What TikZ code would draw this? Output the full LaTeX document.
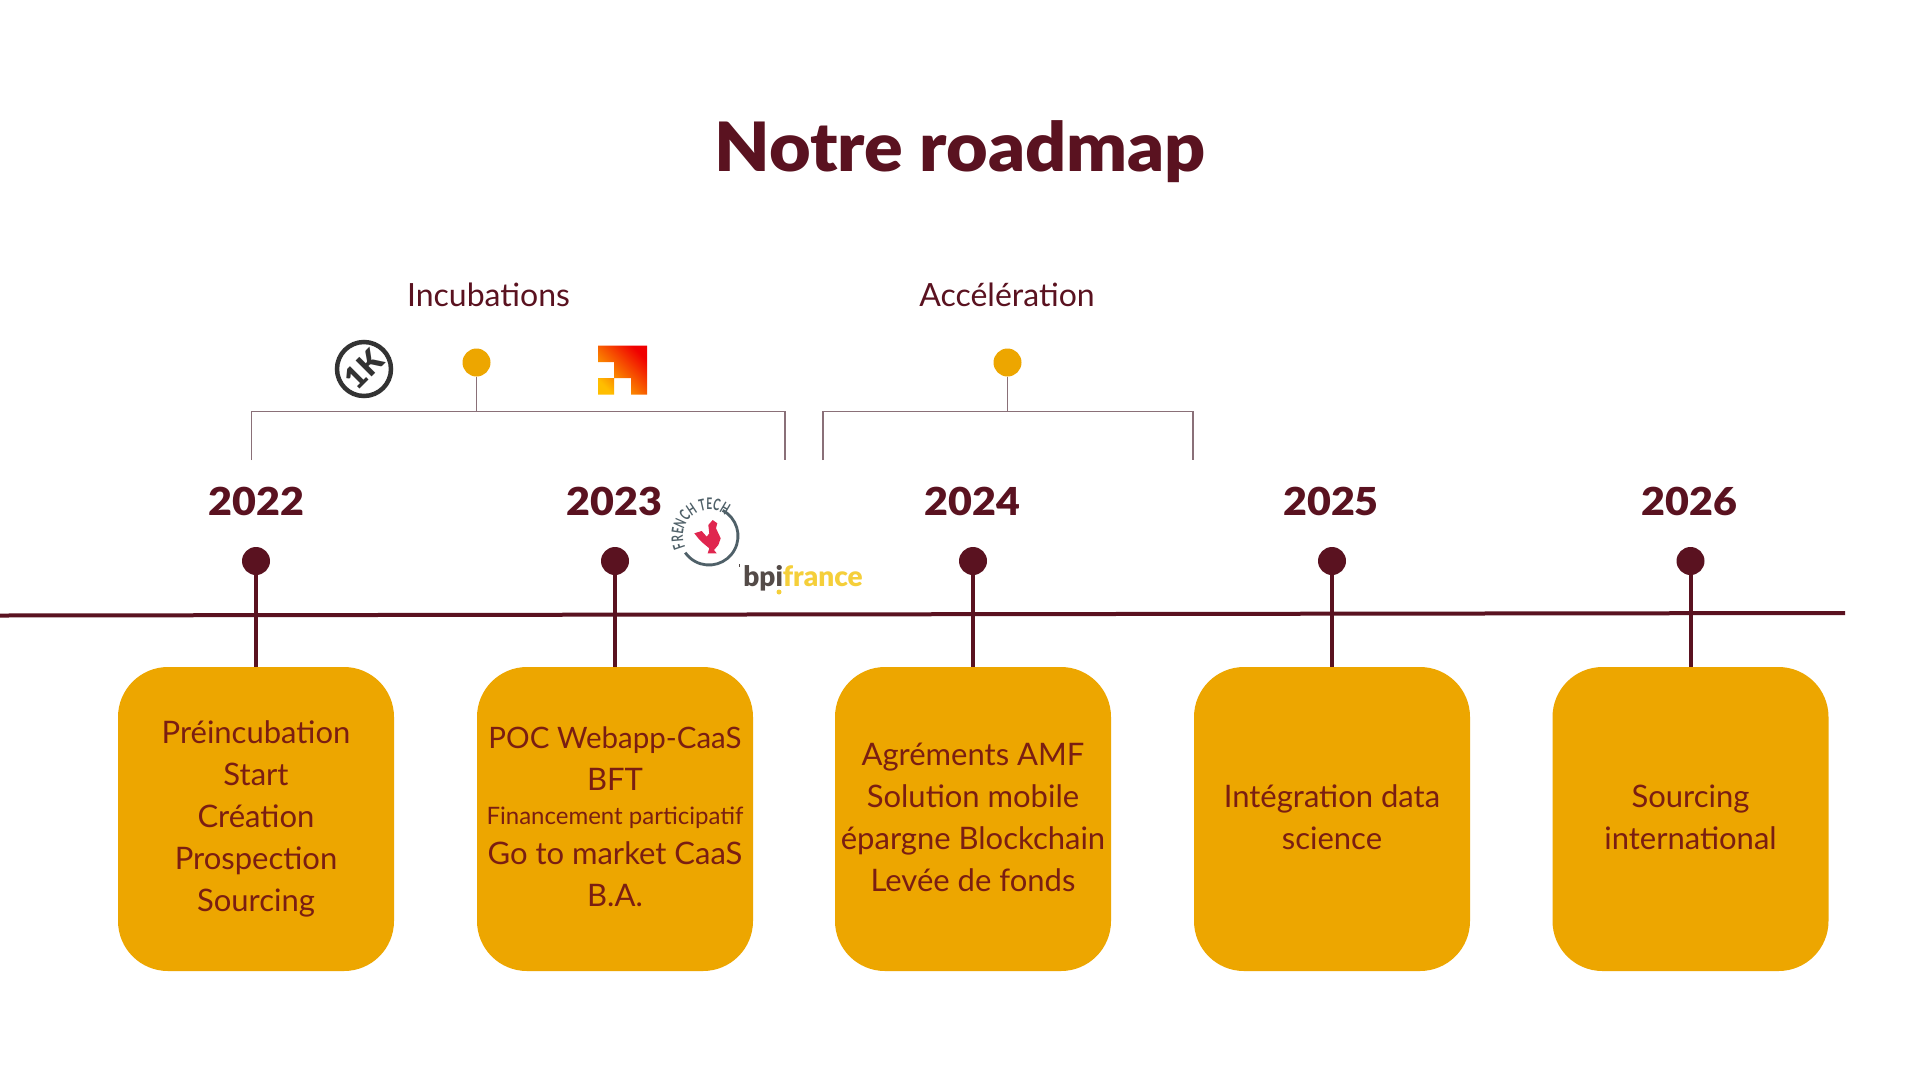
\documentclass[tikz,border=0pt]{standalone}
\usepackage{fontspec}
\setmainfont{Lato}
\newfontfamily\blk{Lato Black}
\newfontfamily\blkw[FakeStretch=1.055]{Lato Black}
\newfontfamily\blky[FakeStretch=1.07]{Lato Black}
\newfontfamily\ftfont[FakeStretch=0.64]{Lato}
\usetikzlibrary{decorations.text,shadings}
\definecolor{wine}{HTML}{5A1220}
\definecolor{amber}{HTML}{EDA600}
\definecolor{boxtext}{HTML}{7A1E12}
\definecolor{brk}{HTML}{8A7078}
\definecolor{logodark}{HTML}{333333}
\definecolor{ftgray}{HTML}{4F6068}
\definecolor{rooster}{HTML}{E0264F}
\definecolor{bpigray}{HTML}{544B48}
\definecolor{bpiyellow}{HTML}{F5CF3A}
\definecolor{logored}{HTML}{F00000}
\definecolor{logoyellow}{HTML}{FFBE00}
\begin{document}
\begin{tikzpicture}[x=1pt,y=-1pt,
  yearlabel/.style={font=\blky\fontsize{38.5}{40}\selectfont,text=wine,inner sep=0},
  pin/.style={circle,fill=wine,minimum size=28pt,inner sep=0},
  stem/.style={draw=wine,line width=4pt},
  card/.style={fill=amber,rounded corners=50pt,minimum width=276pt,minimum height=304pt,inner sep=0,
     text=boxtext,align=center,font=\fontsize{31}{42}\selectfont},
  phase/.style={font=\fontsize{32}{36}\selectfont,text=wine,inner sep=0},
  amberdot/.style={circle,fill=amber,minimum size=28pt,inner sep=0},
  bracket/.style={draw=brk,line width=1.4pt},
  tick/.style={draw=brk,line width=1.4pt}]
\useasboundingbox (0,0) rectangle (1920,1080);
\fill[white] (0,0) rectangle (1920,1080);
\node[font=\blkw\fontsize{68}{70}\selectfont,text=wine,inner sep=0] (title) at (960,152) {Notre roadmap};
\node[phase] (inc) at (488.5,294.5) {Incubations};
\node[phase] (acc) at (1007,294.5) {Accélération};
% timeline
\coordinate (tlL) at (0,615.5);
\coordinate (tlR) at (1845,613);
\draw[stem] (tlL) -- (tlR);
% years, pins, cards
\node[yearlabel] (y1) at (256.5,501) {2022};
\node[yearlabel] (y2) at (614.5,501) {2023};
\node[yearlabel] (y3) at (972.5,501) {2024};
\node[yearlabel] (y4) at (1331,501) {2025};
\node[yearlabel] (y5) at (1689.5,501) {2026};
\node[pin] (p1) at (256,561) {};
\node[pin] (p2) at (615,561) {};
\node[pin] (p3) at (973,561) {};
\node[pin] (p4) at (1332,561) {};
\node[pin] (p5) at (1690.5,561) {};
\node[card] (b1) at (256,819) {Préincubation\\Start\\Création\\Prospection\\Sourcing};
\node[card] (b2) at (615,819) {{\fontsize{29.5}{42}\selectfont POC Webapp-CaaS}\\BFT\\[-8pt]{\fontsize{24}{26}\selectfont Financement participatif}\\[-2pt]Go to market CaaS\\B.A.\\[-38pt]};
\node[card] (b3) at (973,819) {Agréments AMF\\Solution mobile\\épargne Blockchain\\Levée de fonds\\[-38pt]};
\node[card] (b4) at (1332,819) {Intégration data\\science\\[-39pt]};
\node[card] (b5) at (1690.5,819) {Sourcing\\international\\[-39pt]};
\foreach \i in {1,...,5} \draw[stem] (p\i) -- (b\i);
% brackets
\coordinate (a1) at (251.5,460); \coordinate (a2) at (251.5,411.5); \coordinate (a3) at (785,411.5); \coordinate (a4) at (785,460);
\coordinate (c1) at (823,460); \coordinate (c2) at (823,411.5); \coordinate (c3) at (1193,411.5); \coordinate (c4) at (1193,460);
\draw[bracket] (a1) -- (a2) -- (a3) -- (a4);
\draw[bracket] (c1) -- (c2) -- (c3) -- (c4);
\node[amberdot] (d1) at (476.5,362.5) {};
\node[amberdot] (d2) at (1007.5,362.5) {};
\coordinate (e1) at (476.5,411.5);
\coordinate (e2) at (1007.5,411.5);
\draw[tick] (d1) -- (e1);
\draw[tick] (d2) -- (e2);
% 1K logo
\node[circle,draw=logodark,line width=4.5pt,minimum size=54pt,inner sep=-12pt,text=logodark,font=\blk\fontsize{31}{31}\selectfont] (onek) at (364,369) {\rotatebox{45}{1K}};
% orange logo (3x3 grid)
\begin{scope}
\clip (598,345.5) -- (647,345.5) -- (647,394.5) -- (631,394.5) -- (631,378) -- (614,378) -- (614,362) -- (598,362) -- cycle
      (598,378) rectangle (614,394.5);
\shade[top color=logored,bottom color=logoyellow,shading angle=-45] (598,345.5) rectangle (647,394.5);
\end{scope}
% French Tech logo
\coordinate (ftc) at (709,536);
\draw[ftgray,line width=2.8pt] ([shift={(62:29pt)}]ftc) arc[start angle=62,end angle=-145,radius=29pt];
\path[decorate,decoration={text along path,text align=left,text={|\ftfont\bfseries\fontsize{16}{16}\selectfont\color{ftgray}|FRENCH TECH}}]
   ([shift={(205:26pt)}]ftc) arc[start angle=205,end angle=30,radius=26pt];
\fill[rooster] (712.7,520) -- (717.3,523.3) -- (716,528.3) -- (720.7,538.3) -- (718.3,545) -- (714,550) -- (716.7,553.3) -- (707.7,553.3) -- (709.3,548.3) -- (703.3,543.3) -- (698.3,538.3) -- (694.3,533.3) -- (701.7,531) -- (706.7,536.7) -- (709.3,533.3) -- (708.3,525) -- cycle;
% bpifrance logo
\node[inner sep=0,font=\blk\fontsize{28}{28}\selectfont] (bpi) at (803,578) {\textcolor{bpigray}{bpi}\textcolor{bpiyellow}{france}};
\fill[bpiyellow] (779,592) circle (2.5pt);
\fill[bpigray] (738.5,564) rectangle (739.5,567);
\end{tikzpicture}
\end{document}
